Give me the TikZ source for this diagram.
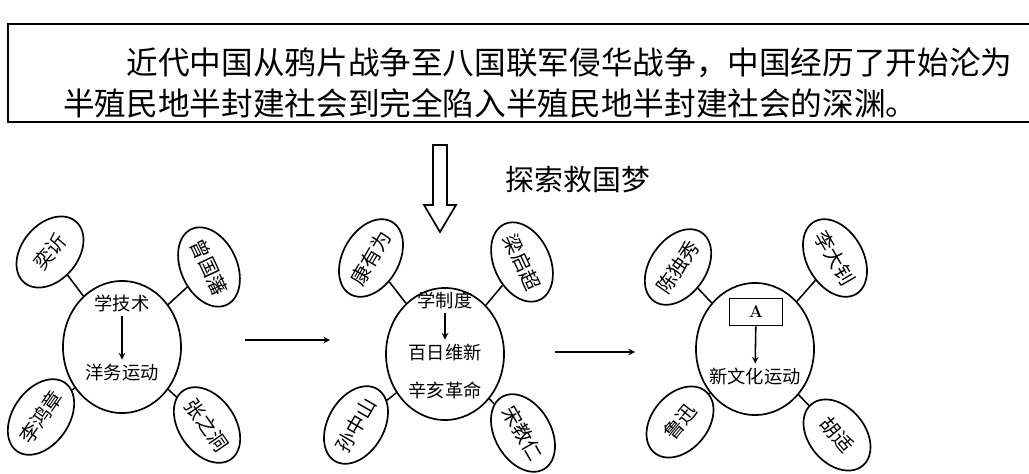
\documentclass[tikz,border=0pt]{standalone}
\usepackage{fontspec}
\newfontfamily\cjk{Noto Sans CJK SC}
\usetikzlibrary{shapes.geometric}
\tikzset{every node/.style={font=\cjk\fontsize{13}{13}\selectfont},
  hub/.style={draw, ellipse, line width=1.2pt, minimum width=2.95cm, minimum height=3.3cm},
  person/.style={draw, ellipse, line width=1.2pt, inner sep=0pt, minimum width=2cm,
    minimum height=1.4cm, font=\cjk\fontsize{14}{14}\selectfont},
  link/.style={line width=1.1pt},
  flow/.style={->, >=stealth, line width=1.1pt}}

\begin{document}
\begin{tikzpicture}[x=0.025cm, y=-0.025cm]
      \useasboundingbox (0,0) rectangle (1029,473);
      % heading box
      \draw[line width=1.5pt] (1035,24) -- (8,24) -- (8,122) -- (1035,122);
      \node[anchor=west, align=left, inner sep=0pt, font=\cjk\fontsize{22.5}{29}\selectfont] (intro) at (63,83)
        {\hspace{2em}近代中国从鸦片战争至八国联军侵华战争，中国经历了开始沦为\\半殖民地半封建社会到完全陷入半殖民地半封建社会的深渊。};
      \draw[line width=1.2pt] (433,145) -- (447,145) -- (447,205) -- (456,205) -- (440,232)
        -- (424,205) -- (433,205) -- cycle;
      \node[font=\cjk\fontsize{20.5}{20.5}\selectfont] (dream) at (578,180) {探索救国梦};
      
      % yangwu
      \node[hub] (hubA) at (122,347) {};
      \node (techA) at (122,303) {学技术};
      \node (moveA) at (122,373) {洋务运动};
      \draw[flow] (techA) -- (moveA);
      \node[person, rotate=50] (yixin) at (50,252) {奕䜣};
      \node[person, rotate=-65] (zeng) at (209,267) {曾国藩};
      \node[person, rotate=55] (lihz) at (41,417) {李鸿章};
      \node[person, rotate=-55] (zhang) at (207,425) {张之洞};
      \foreach \p in {yixin, zeng, lihz, zhang}
      \draw[link] (\p) -- (hubA);
      
      % reform
      \node[hub] (hubB) at (445,354) {};
      \node (techB) at (445,300) {学制度};
      \node (moveB) at (445,353) {百日维新};
      \node (moveC) at (445,390) {辛亥革命};
      \draw[flow] (techB) -- (moveB);
      \node[person, rotate=60] (kang) at (371,258) {康有为};
      \node[person, rotate=-65] (liang) at (522,262) {梁启超};
      \node[person, rotate=60] (sun) at (356,425) {孙中山};
      \node[person, rotate=-60] (song) at (523,433) {宋教仁};
      \foreach \p in {kang, liang, sun, song}
      \draw[link] (\p) -- (hubB);
      
      % new culture
      \node[hub] (hubC) at (755,349) {};
      \node[draw, line width=1.1pt, minimum width=1.32cm, minimum height=0.68cm,
        font=\bfseries\fontsize{12}{12}\selectfont] (boxA) at (756,312) {A};
      \node (moveD) at (755,377) {新文化运动};
      \draw[flow] (boxA) -- (moveD);
      \node[person, rotate=55] (chen) at (678,267) {陈独秀};
      \node[person, rotate=-60] (lidz) at (835,258) {李大钊};
      \node[person, rotate=50] (lu) at (680,422) {鲁迅};
      \node[person, rotate=-50] (hu) at (837,435) {胡适};
      \foreach \p in {chen, lidz, lu, hu}
      \draw[link] (\p) -- (hubC);
      
      \coordinate (goA) at (245,340);
      \coordinate (toB) at (330,340);
      \coordinate (goB) at (555,352);
      \coordinate (toC) at (635,352);
      \draw[flow] (goA) -- (toB);
      \draw[flow] (goB) -- (toC);
    \end{tikzpicture}
\end{document}
